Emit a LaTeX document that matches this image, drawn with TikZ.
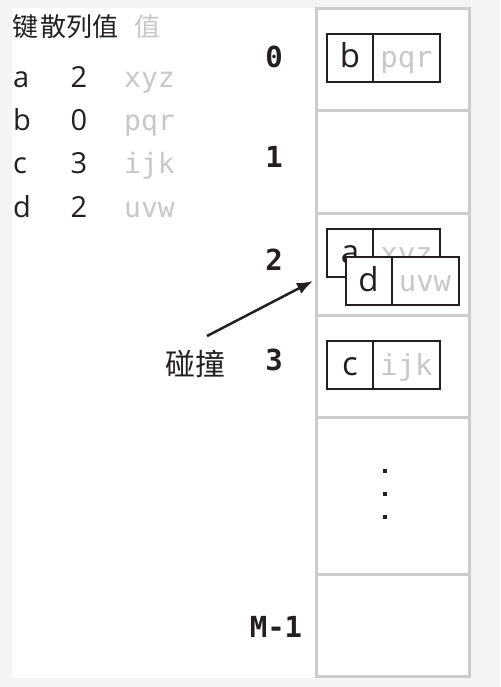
\documentclass[tikz,border=0pt]{standalone}
\usepackage{fontspec}
\usepackage{tikz}
\usetikzlibrary{arrows.meta, positioning}
\newfontfamily\keyfont{Open Sans}
\newfontfamily\valfont{DejaVu Sans Mono}
\newfontfamily\cjkfont{Noto Sans CJK SC}
\definecolor{ink}{HTML}{231F20}
\definecolor{soft}{HTML}{C8C8C8}
\definecolor{frame}{HTML}{CCCCCC}
\definecolor{page}{HTML}{F4F4F4}

\begin{document}
\begin{tikzpicture}[
  x=1pt, y=-1pt,
  slot/.style={draw=frame, line width=3pt, fill=white, minimum width=153pt, minimum height=102pt, inner sep=0pt, outer sep=0pt},
  slot num/.style={text=ink, inner sep=0pt, font=\valfont\bfseries\fontsize{29}{30}\selectfont},
  key cell/.style={draw=ink, line width=2pt, fill=white, minimum width=46pt, minimum height=48pt, inner sep=0pt, outer sep=0pt, text height=27pt, text depth=7pt, text=ink, font=\keyfont\fontsize{33}{36}\selectfont},
  val cell/.style={key cell, minimum width=67pt, text=soft, font=\valfont\fontsize{29}{32}\selectfont},
  key text/.style={anchor=base west, inner sep=0pt, text=ink, font=\keyfont\fontsize{29}{30}\selectfont},
  hash text/.style={anchor=base, inner sep=0pt, text=ink, font=\keyfont\fontsize{29}{30}\selectfont},
  val text/.style={anchor=base west, inner sep=0pt, text=soft, font=\valfont\fontsize{28}{30}\selectfont},
  head text/.style={anchor=base west, inner sep=0pt, text=ink, font=\cjkfont\fontsize{26}{28}\selectfont},
  coll text/.style={inner sep=0pt, text=ink, font=\cjkfont\fontsize{30}{32}\selectfont},
  collide arrow/.style={draw=ink, line width=2.5pt, -{Latex[length=16pt, width=12pt]}}
]
  \useasboundingbox (0,0) rectangle (500,687);
  \fill[page] (0,0) rectangle (500,687);
  \fill[white] (12,8) rectangle (470,678);

  % Keys, hash values, values
  \node[head text] (h key) at (12,37) {键};
  \node[head text] (h hash) at (40,37) {散列值};
  \node[head text, text=soft] (h val) at (134,37) {值};

  \node[key text] (ta) at (13,88) {a};
  \node[hash text] (ha) at (79,88) {2};
  \node[val text] (va text) at (124,88) {xyz};

  \node[key text] (tb) at (13,131) {b};
  \node[hash text] (hb) at (79,131) {0};
  \node[val text] (vb text) at (124,131) {pqr};

  \node[key text] (tc) at (13,174) {c};
  \node[hash text] (hc) at (79,174) {3};
  \node[val text] (vc text) at (124,174) {ijk};

  \node[key text] (td) at (13,217) {d};
  \node[hash text] (hd) at (79,217) {2};
  \node[val text] (vd text) at (124,217) {uvw};

  % Table
  \node[slot] (s0) at (392.5,60) {};
  \node[slot, below=0pt of s0] (s1) {};
  \node[slot, below=0pt of s1] (s2) {};
  \node[slot, below=0pt of s2] (s3) {};
  \node[slot, minimum height=157pt, below=0pt of s3] (sdots) {};
  \node[slot, below=0pt of sdots] (sm) {};

  \node[slot num] (n0) at (274,57) {0};
  \node[slot num] (n1) at (274,157) {1};
  \node[slot num] (n2) at (274,260) {2};
  \node[slot num] (n3) at (274,360) {3};
  \node[slot num] (nm) at (276,627) {M-1};

  \foreach \dy in {24.5,1.5,-21.5}
    \fill[ink] ([xshift=-7.5pt, yshift=\dy pt]sdots.center) +(-2,-2) rectangle +(2,2);

  % Pairs
  \node[key cell] (kb) at (350,58) {b};
  \node[val cell, right=0pt of kb] (vb) {pqr};

  \node[key cell] (ka) at (350,253) {a};
  \node[val cell, right=0pt of ka] (va) {xyz};
  \node[key cell] (kd) at (368.5,281) {d};
  \node[val cell, right=0pt of kd] (vd) {uvw};

  \node[key cell] (kc) at (350,365) {c};
  \node[val cell, right=0pt of kc] (vc) {ijk};

  % Collision
  \coordinate (hit) at (313,281);
  \node[coll text] (coll) at (195,364) {碰撞};
  \draw[collide arrow] ([xshift=12pt, yshift=14pt]coll.north) -- (hit);
\end{tikzpicture}
\end{document}
